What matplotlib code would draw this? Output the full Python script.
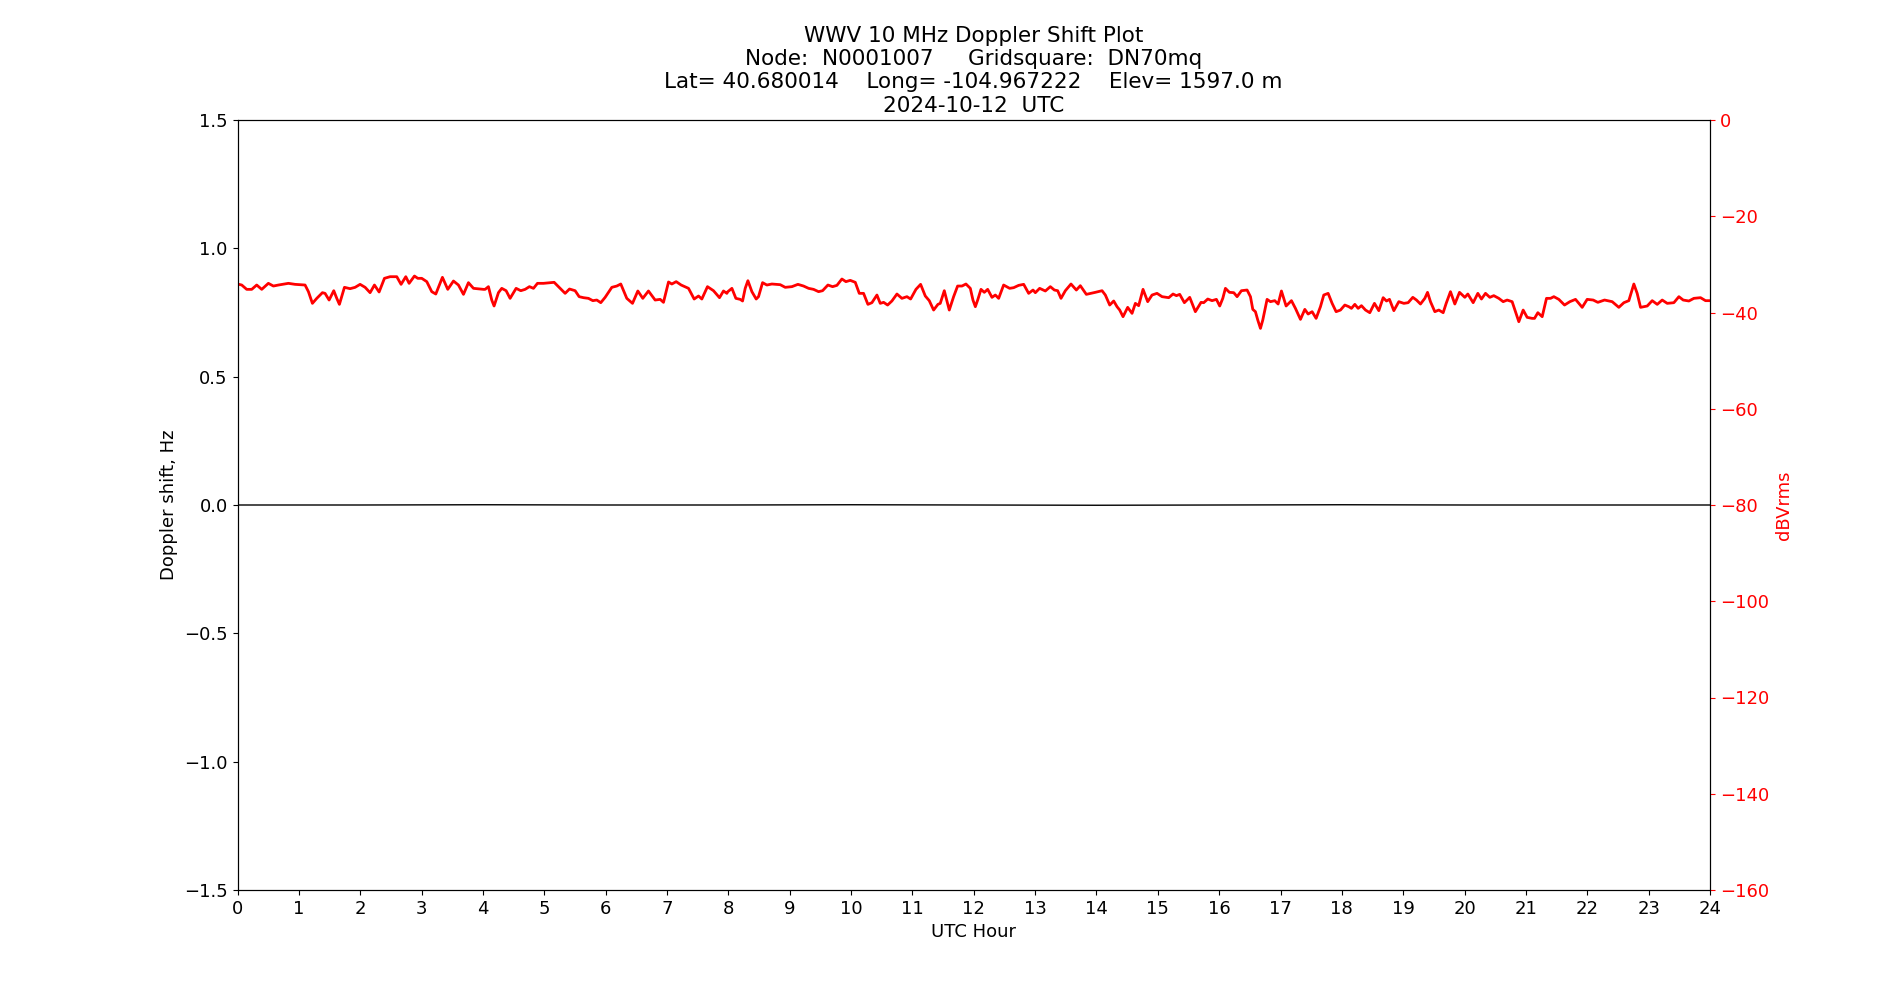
import matplotlib
matplotlib.use("Agg")
import matplotlib.pyplot as plt

# ---- data ----
node = "N0001007"
grid = "DN70mq"
lat = "40.680014"
lon = "-104.967222"
elev = "1597.0"
date = "2024-10-12"

hour_ticks = list(range(0, 25))

doppler_hours = [0.0, 2.0, 4.0, 6.0, 8.0, 10.0, 12.0, 14.0, 16.0, 18.0, 20.0, 22.0, 24.0]
doppler_hz = [0.0, 0.0, 0.001, 0.0, 0.0, 0.001, 0.0, -0.001, 0.0, 0.001, 0.0, 0.0, 0.0]

power_hours = [
    0.0, 0.069, 0.15, 0.232, 0.313, 0.395, 0.503, 0.585, 0.667, 0.83, 0.938, 1.101, 1.156, 1.221,
    1.292, 1.384, 1.427, 1.493, 1.569, 1.618, 1.661, 1.743, 1.835, 1.917, 1.998, 2.08, 2.161,
    2.232, 2.308, 2.395, 2.487, 2.596, 2.666, 2.743, 2.797, 2.884, 2.938, 3.003, 3.085, 3.166,
    3.232, 3.34, 3.427, 3.52, 3.601, 3.683, 3.764, 3.846, 4.009,
    4.036, 4.09, 4.144, 4.182, 4.253, 4.307, 4.378, 4.443, 4.541, 4.617, 4.688, 4.758, 4.824,
    4.889, 4.987, 5.095, 5.161, 5.231, 5.34, 5.411, 5.503, 5.568, 5.639, 5.72, 5.791, 5.856,
    5.921, 5.992, 6.101, 6.182, 6.247, 6.345, 6.438, 6.525, 6.606, 6.698, 6.807, 6.889, 6.943,
    7.025, 7.079, 7.15, 7.231, 7.351, 7.443, 7.514, 7.568, 7.66, 7.758, 7.856, 7.921, 7.976,
    7.992, 8.058, 8.123, 8.194, 8.232, 8.275, 8.319, 8.384, 8.454, 8.492, 8.558, 8.628, 8.71,
    8.846, 8.927, 9.036, 9.134, 9.226, 9.308, 9.389, 9.471, 9.536, 9.623, 9.699, 9.77, 9.851,
    9.916, 9.987, 10.069, 10.134, 10.204, 10.275, 10.34, 10.422, 10.476, 10.531, 10.596,
    10.666, 10.748, 10.829, 10.911, 10.971, 11.058, 11.134, 11.21, 11.275, 11.346, 11.416,
    11.454, 11.52, 11.601, 11.672, 11.737, 11.808, 11.873, 11.944,
    11.987, 12.026, 12.064, 12.118, 12.172, 12.227, 12.297, 12.352, 12.406, 12.487, 12.585,
    12.651, 12.732, 12.814, 12.895, 12.966, 13.004, 13.074, 13.167, 13.248, 13.314, 13.368,
    13.422, 13.493, 13.585, 13.672, 13.737, 13.835, 13.911, 13.982, 14.091, 14.145, 14.216,
    14.281, 14.335, 14.379, 14.433, 14.509, 14.58, 14.634, 14.688, 14.759, 14.835, 14.906,
    14.987, 15.069, 15.178, 15.248, 15.303, 15.357, 15.433, 15.52, 15.612, 15.705, 15.748,
    15.814, 15.884, 15.955, 16.009,
    16.059, 16.102, 16.167, 16.238, 16.292, 16.363, 16.455, 16.51, 16.548, 16.591, 16.629,
    16.673, 16.711, 16.781, 16.836, 16.906, 16.961, 17.015, 17.091, 17.178, 17.243, 17.325,
    17.396, 17.45, 17.515, 17.58, 17.651, 17.705, 17.776, 17.841, 17.906, 17.977, 18.048,
    18.113, 18.156, 18.211, 18.265, 18.319, 18.385, 18.455, 18.531, 18.602, 18.673, 18.727,
    18.776, 18.847, 18.928, 19.01, 19.08, 19.156, 19.216, 19.281, 19.352, 19.396, 19.444,
    19.515, 19.58, 19.651, 19.7, 19.77, 19.841, 19.917, 20.004,
    20.053, 20.14, 20.216, 20.275, 20.341, 20.411, 20.476, 20.558, 20.629, 20.694, 20.775,
    20.83, 20.884, 20.955, 21.02, 21.101, 21.14, 21.194, 21.265, 21.335, 21.401, 21.455,
    21.536, 21.629, 21.716, 21.808, 21.917, 21.998, 22.096, 22.172, 22.281, 22.406, 22.514,
    22.596, 22.677, 22.759, 22.813, 22.868, 22.977, 23.058, 23.14, 23.221, 23.303, 23.411,
    23.493, 23.563, 23.656, 23.737, 23.846, 23.927, 24.0,
]

power_db = [
    -34.08, -34.29, -35.19, -35.19, -34.29, -35.19, -33.94, -34.5, -34.29, -33.94, -34.15, -34.29, -35.67, -38.1,
    -37.06, -35.88, -36.02, -37.41, -35.47, -37.06, -38.31, -34.77, -35.05, -34.77, -34.15, -34.77, -35.88,
    -34.29, -35.74, -32.9, -32.56, -32.56, -34.15, -32.56, -33.94, -32.42, -32.9, -32.9, -33.59, -35.67,
    -36.16, -32.69, -35.19, -33.46, -34.29, -36.23, -33.8, -34.98, -35.19,
    -35.19, -34.63, -37.41, -38.65, -35.88, -34.98, -35.47, -37.06, -34.98, -35.47, -35.19, -34.63, -34.98,
    -33.94, -33.94, -33.8, -33.73, -34.63, -36.02, -35.12, -35.47, -36.71, -36.92, -37.06, -37.54, -37.41,
    -37.96, -36.85, -34.77, -34.5, -34.08, -37.06, -38.1, -35.53, -37.06, -35.53, -37.41, -37.27, -37.89,
    -33.66, -34.08, -33.59, -34.29, -34.98, -37.2, -36.57, -37.2, -34.63, -35.47, -36.92, -35.53, -36.02,
    -35.67, -34.98, -37.06, -37.27, -37.61, -34.98, -33.39, -35.67, -37.2, -36.71, -33.8, -34.29, -34.08,
    -34.22, -34.77, -34.63, -34.15, -34.5, -34.98, -35.19, -35.67, -35.47, -34.29, -34.63, -34.36, -33.04,
    -33.59, -33.32, -33.73, -36.02, -36.02, -38.31, -37.96, -36.37, -38.1, -37.89, -38.45,
    -37.61, -36.16, -37.06, -36.71, -37.2, -35.19, -34.15, -36.57, -37.54, -39.49, -38.31,
    -38.1, -35.47, -39.49, -36.71, -34.5, -34.5, -34.08, -34.98,
    -37.41, -38.79, -37.41, -35.19, -35.81, -35.19, -36.85, -36.37, -37.06, -34.29, -34.98,
    -34.84, -34.36, -34.15, -36.02, -35.33, -35.88, -34.98, -35.53, -34.63, -35.33, -35.47,
    -37.06, -35.47, -34.08, -35.33, -34.43, -36.23, -36.02, -35.81, -35.47, -36.37, -38.45,
    -37.61, -38.79, -39.49, -40.87, -38.93, -40.18, -38.1, -38.58, -35.19, -37.75, -36.37,
    -36.02, -36.71, -36.92, -36.16, -36.5, -36.23, -37.96, -36.85, -39.83, -37.89, -37.96,
    -37.2, -37.54, -37.27, -38.65,
    -37.06, -34.98, -35.81, -35.88, -36.71, -35.47, -35.33, -36.71, -39.35, -39.83, -41.56,
    -43.3, -41.56, -37.27, -37.75, -37.54, -38.24, -35.53, -38.65, -37.54, -39.14, -41.43,
    -39.35, -40.32, -39.83, -41.22, -38.79, -36.37, -36.02, -38.1, -39.83, -39.49, -38.45,
    -38.79, -39.14, -38.31, -39.14, -38.58, -39.49, -40.04, -38.1, -39.62, -36.92, -37.61,
    -37.27, -39.62, -37.75, -38.1, -37.96, -36.85, -37.41, -38.24, -37.06, -35.81, -37.75,
    -39.83, -39.49, -40.04, -38.1, -35.67, -38.24, -35.81, -36.85,
    -36.16, -37.96, -36.02, -37.2, -36.02, -36.85, -36.5, -37.06, -37.75, -37.41, -37.75,
    -39.83, -41.91, -39.49, -41.01, -41.22, -41.22, -40.04, -40.87, -37.06, -37.06, -36.71,
    -37.27, -38.45, -37.75, -37.27, -38.93, -37.27, -37.41, -37.89, -37.41, -37.75, -38.93,
    -37.96, -37.54, -34.08, -36.02, -38.93, -38.65, -37.54, -38.31, -37.41, -38.1, -37.96,
    -36.71, -37.41, -37.61, -37.06, -36.92, -37.54, -37.54,
]

# ---- plot ----
fig, ax = plt.subplots(figsize=(19, 10), dpi=100)

ax.plot(doppler_hours, doppler_hz, color="black", linewidth=1.0)
ax.set_xlim(0, 24)
ax.set_ylim(-1.5, 1.5)
ax.set_xticks(hour_ticks)
ax.set_xlabel("UTC Hour", fontsize=13)
ax.set_ylabel("Doppler shift, Hz", fontsize=13)
ax.tick_params(labelsize=13)

ax2 = ax.twinx()
ax2.plot(power_hours, power_db, color="red", linewidth=2.0, solid_joinstyle="round")
ax2.set_ylim(-160, 0)
ax2.set_ylabel("dBVrms", color="red", fontsize=13)
ax2.tick_params(axis="y", colors="red", labelsize=13)
ax2.spines["right"].set_color("black")

title = ("WWV 10 MHz Doppler Shift Plot\n"
         f"Node:  {node}     Gridsquare:  {grid}\n"
         f"Lat= {lat}    Long= {lon}    Elev= {elev} m\n"
         f"{date}  UTC")
ax.set_title(title, fontsize=15.5)

fig.savefig("out.png", dpi=100)
